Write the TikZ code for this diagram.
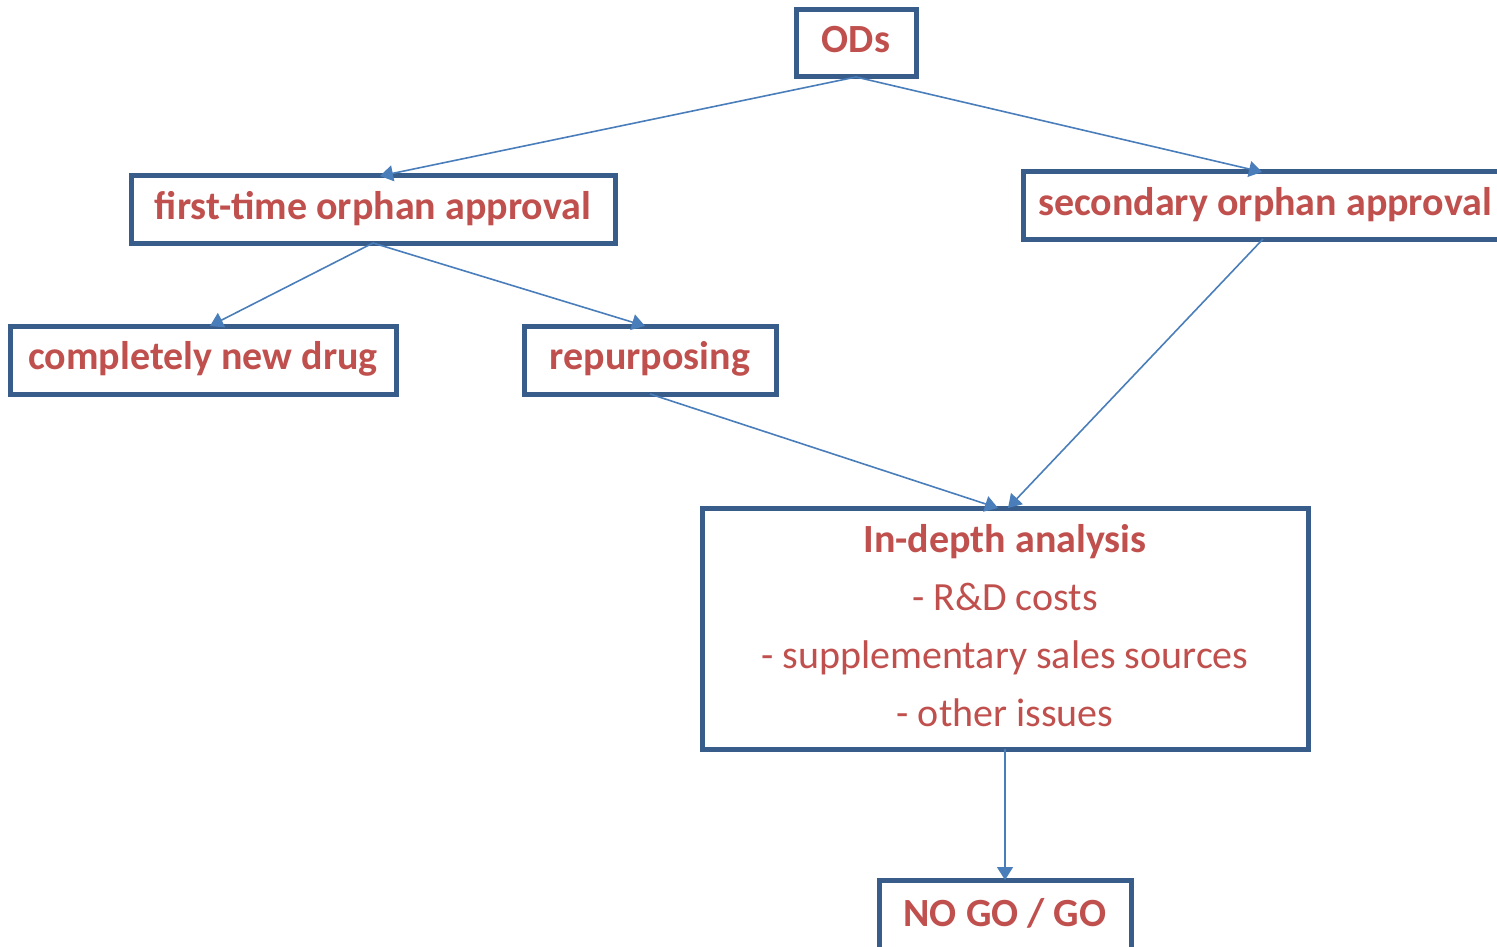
\documentclass[tikz,border=0pt]{standalone}
\usepackage{fontspec}
\setmainfont{Carlito}
\usetikzlibrary{arrows.meta,calc}
\definecolor{txtred}{HTML}{C0504D}
\definecolor{boxblue}{HTML}{385D8A}
\definecolor{lineblue}{HTML}{4A7EBB}
\tikzset{
  box/.style={draw=boxblue, line width=5pt, fill=white, rectangle, inner sep=0pt, outer sep=0pt,
    text=txtred, font=\fontsize{40}{48}\selectfont\bfseries},
  onebox/.style={box, text height=28pt, text depth=9pt},
  conn/.style={draw=lineblue, line width=1.6pt, -{Triangle[length=13pt,width=16pt]}},
}
\begin{document}
\begin{tikzpicture}[x=1pt,y=-1pt]
\useasboundingbox (0,0) rectangle (1497,947);
\clip (0,0) rectangle (1497,947);
\node[onebox, minimum width=120pt, minimum height=67pt] (ods) at (856,43.5) {ODs};
\node[onebox, minimum width=484pt, minimum height=67pt] (ft) at (373,209.5) {first-time orphan approval};
\node[onebox, minimum width=484pt, minimum height=67pt] (sec) at (1265,205.5) {secondary orphan approval};
\node[onebox, minimum width=386pt, minimum height=68pt] (new) at (203,360) {completely new drug};
\node[onebox, minimum width=252pt, minimum height=68pt] (rep) at (650,360) {repurposing};
\node[box, minimum width=606pt, minimum height=241pt, align=center, font=\fontsize{40}{58}\selectfont, text depth=6pt] (ida) at (1005,628.5)
  {\textbf{In-depth analysis}\\- R\&D costs\\- supplementary sales sources\\- other issues};
\node[onebox, minimum width=252pt, minimum height=70pt, anchor=north, text depth=6pt] (go) at (1005,880) {NO GO / GO};
\draw[conn] (ods.south) -- ($(ft.north)+(7,0)$);
\draw[conn] (ods.south) -- ($(sec.north)+(-3,0)$);
\draw[conn] (ft.south) -- ($(new.north)+(7,0)$);
\draw[conn] (ft.south) -- ($(rep.north)+(-5,0)$);
\draw[conn] (rep.south) -- ($(ida.north)+(-7,0)$);
\draw[conn] ($(sec.south)+(-2,0)$) -- ($(ida.north)+(3,0)$);
\draw[conn] (ida.south) -- (go.north);
\end{tikzpicture}
\end{document}
